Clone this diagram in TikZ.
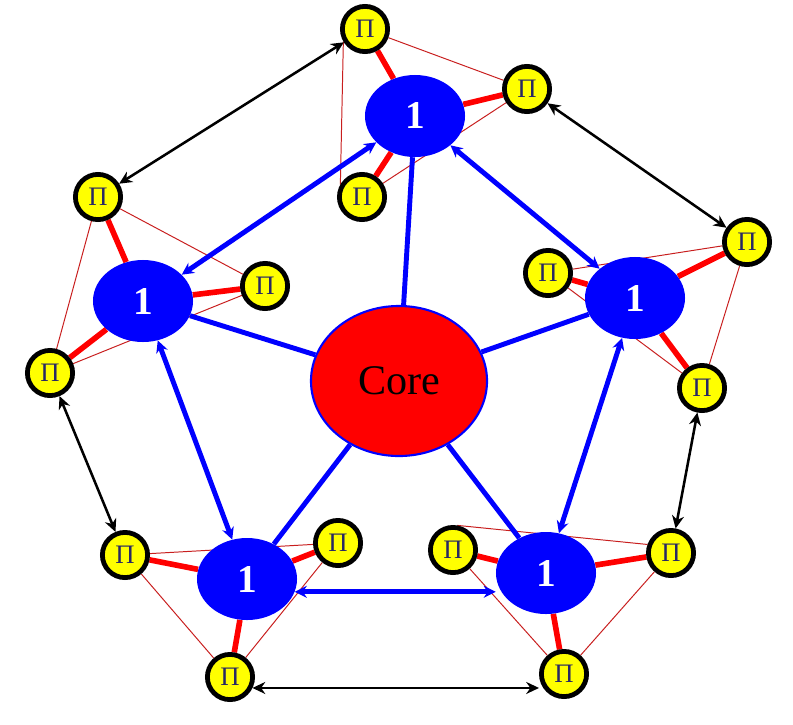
\documentclass[tikz,border=0pt]{standalone}
\usepackage{fontspec}
\setmainfont{Liberation Serif}
\usetikzlibrary{arrows.meta,shapes.geometric,backgrounds}
\definecolor{corered}{RGB}{255,0,0}
\definecolor{unitblue}{RGB}{0,0,255}
\definecolor{piyellow}{RGB}{255,255,0}
\definecolor{pinavy}{RGB}{40,40,100}
\definecolor{webred}{RGB}{200,30,30}

\begin{document}
\begin{tikzpicture}[x=0.025cm, y=-0.025cm,
  core/.style={ellipse, draw=unitblue, line width=1.5pt, fill=corered, minimum width=4.4cm, minimum height=3.75cm, font=\fontsize{30}{30}\selectfont},
  unit/.style={ellipse, fill=unitblue, text=white, minimum width=2.5cm, minimum height=2.05cm, font=\fontsize{28}{28}\selectfont\bfseries},
  pinode/.style={circle, draw=black, line width=3.4pt, fill=piyellow, text=pinavy, minimum size=1.13cm, inner sep=0pt, font=\fontsize{19}{19}\selectfont},
  spoke/.style={unitblue, line width=3.5pt},
  ring/.style={unitblue, line width=3.5pt, {Stealth[length=3mm,width=3mm]}-{Stealth[length=3mm,width=3mm]}},
  leg/.style={red, line width=4pt},
  web/.style={webred, line width=0.7pt},
  bridge/.style={black, line width=1.8pt, {Stealth[length=3.2mm,width=3mm]}-{Stealth[length=3.2mm,width=3mm]}}]
\useasboundingbox (0,0) rectangle (793,724);
% core and the five units
\node[core] (core) at (399,381) {Core};
\node[unit] (ut) at (415,116) {1};
\node[unit] (ul) at (143,301) {1};
\node[unit] (ur) at (635,298) {1};
\node[unit] (ubl) at (247,579) {1};
\node[unit] (ubr) at (546,573) {1};
% top group
\node[pinode] (tp1) at (365,29) {Π};
\node[pinode] (tp2) at (527,89) {Π};
\node[pinode] (tp3) at (362,197) {Π};
% left group
\node[pinode] (lp1) at (98,197) {Π};
\node[pinode] (lp2) at (265,286) {Π};
\node[pinode] (lp3) at (50,373) {Π};
% right group
\node[pinode] (rp1) at (747,242) {Π};
\node[pinode] (rp2) at (548,273) {Π};
\node[pinode] (rp3) at (702,388) {Π};
% bottom left group
\node[pinode] (blp1) at (125,555) {Π};
\node[pinode] (blp2) at (338,543) {Π};
\node[pinode] (blp3) at (230,677) {Π};
% bottom right group
\node[pinode] (brp1) at (453,550) {Π};
\node[pinode] (brp2) at (671,553) {Π};
\node[pinode] (brp3) at (564,674) {Π};
\begin{scope}[on background layer]
% thin triangles
\draw[web] (tp1.210) -- (tp3.150) (tp1) -- (tp2) (tp3) -- (tp2);
\draw[web] (lp1) -- (lp3) (lp1) -- (lp2) (lp3) -- (lp2);
\draw[web] (rp2) -- (rp1) (rp1) -- (rp3) (rp2) -- (rp3);
\draw[web] (blp1) -- (blp2) (blp1) -- (blp3) (blp2) -- (blp3);
\draw[web] (brp1.80) -- (brp2.160) (brp1) -- (brp3) (brp2) -- (brp3);
% legs
\draw[leg] (ut) -- (tp1) (ut) -- (tp2) (ut) -- (tp3);
\draw[leg] (ul) -- (lp1) (ul) -- (lp2) (ul) -- (lp3);
\draw[leg] (ur) -- (rp1) (ur) -- (rp2) (ur) -- (rp3);
\draw[leg] (ubl) -- (blp1) (ubl) -- (blp2) (ubl) -- (blp3);
\draw[leg] (ubr) -- (brp1) (ubr) -- (brp2) (ubr) -- (brp3);
% spokes
\draw[spoke] (core) -- (ut) (core) -- (ul) (core) -- (ur) (core) -- (ubl) (core) -- (ubr);
\end{scope}
% ring between units
\draw[ring] (ut) -- (ul);
\draw[ring] (ut) -- (ur);
\draw[ring] (ul) -- (ubl);
\draw[ring] (ur) -- (ubr);
\draw[ring] (ubl.-15) -- (ubl.-15 -| ubr.west);
% bridges between groups
\draw[bridge] (tp1) -- (lp1);
\draw[bridge] (tp2) -- (rp1);
\draw[bridge] (lp3) -- (blp1);
\draw[bridge] (rp3) -- (brp2);
\draw[bridge] (blp3.-26) -- (blp3.-26 -| brp3.west);
\end{tikzpicture}
\end{document}
